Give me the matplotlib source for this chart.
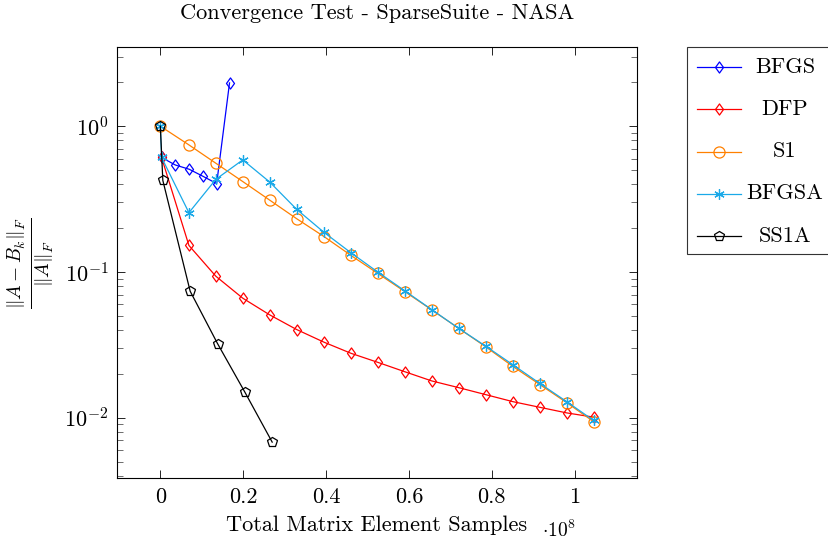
import matplotlib
matplotlib.use("Agg")
import matplotlib.pyplot as plt
from matplotlib.lines import Line2D
from matplotlib.patches import Rectangle
from matplotlib.path import Path
from matplotlib.ticker import FixedLocator, FuncFormatter, LogLocator, NullFormatter

plt.rcParams.update({
    "font.family": "serif",
    "font.serif": ["cmr10"],
    "mathtext.fontset": "cm",
    "axes.formatter.use_mathtext": True,
    "axes.unicode_minus": False,
    "font.size": 16,
})

# Total matrix element samples, in units of 1e8
samples_grid = [0.069, 0.134, 0.199, 0.264, 0.329, 0.395, 0.460, 0.525,
                0.590, 0.655, 0.720, 0.786, 0.851, 0.916, 0.981, 1.046]

bfgs_x = [0.003, 0.036, 0.070, 0.103, 0.136, 0.167]
bfgs_y = [0.61, 0.542, 0.506, 0.453, 0.404, 1.98]

dfp_x = [0.003] + samples_grid
dfp_y = [0.61, 0.152, 0.0935, 0.0661, 0.0508, 0.0403, 0.0330, 0.0277, 0.0240,
         0.0207, 0.0179, 0.0161, 0.0144, 0.0129, 0.0118, 0.0108, 0.0101]

s1_x = [0.0] + samples_grid
s1_y = [1.0, 0.744, 0.557, 0.417, 0.311, 0.232, 0.175, 0.130, 0.0977,
        0.0734, 0.0550, 0.0411, 0.0306, 0.0225, 0.0169, 0.0127, 0.0094]

bfgsa_x = [0.0, 0.003] + samples_grid
bfgsa_y = [1.0, 0.61, 0.255, 0.432, 0.587, 0.414, 0.269, 0.187, 0.1355, 0.0998,
           0.0743, 0.0552, 0.0411, 0.0309, 0.0231, 0.0172, 0.0129, 0.00958]

ss1a_x = [0.0, 0.006, 0.072, 0.138, 0.204, 0.270]
ss1a_y = [1.0, 0.425, 0.0738, 0.0323, 0.0150, 0.00681]

labels = ["BFGS", "DFP", "S1", "BFGSA", "SS1A"]
colors = ["#0000ff", "#ff0000", "#ff8000", "#1aa9e8", "#000000"]

# pgfplots-style diamond: a little wider than matplotlib's thin diamond
diamond = Path([(0, 1), (0.72, 0), (0, -1), (-0.72, 0), (0, 1)],
               [Path.MOVETO, Path.LINETO, Path.LINETO, Path.LINETO, Path.CLOSEPOLY])
markers = [diamond, diamond, "o", (6, 2, 0), "p"]
msizes = [8, 8, 8, 7.5, 7.5]

series = [(bfgs_x, bfgs_y), (dfp_x, dfp_y), (s1_x, s1_y),
          (bfgsa_x, bfgsa_y), (ss1a_x, ss1a_y)]

W, H = 829, 546
fig = plt.figure(figsize=(W / 100, H / 100), dpi=100)
ax = fig.add_axes([117 / W, 1 - 478 / H, (637 - 117) / W, (478 - 47) / H])

style = dict(lw=0.9, markerfacecolor="none", markeredgewidth=0.9)
for (xs, ys), lab, c, m, ms in zip(series, labels, colors, markers, msizes):
    ax.plot(xs, ys, color=c, marker=m, markersize=ms,
            markeredgecolor=c, label=lab, **style)

ax.set_yscale("log")
ax.set_xlim(-0.1046, 1.1506)
ax.set_ylim(10 ** -2.413, 10 ** 0.543)

ax.xaxis.set_major_locator(FixedLocator([0, 0.2, 0.4, 0.6, 0.8, 1.0]))
ax.xaxis.set_major_formatter(FuncFormatter(lambda v, p: "%g" % round(v, 3)))
ax.yaxis.set_major_locator(LogLocator(base=10, numticks=10))
ax.yaxis.set_minor_locator(LogLocator(base=10, subs=range(2, 10), numticks=20))
ax.yaxis.set_minor_formatter(NullFormatter())

ax.tick_params(which="both", direction="in", top=True, right=True)
ax.tick_params(which="major", length=6, width=0.6)
ax.tick_params(which="minor", length=4, width=0.6, color="#555555")
ax.tick_params(axis="x", pad=7)
ax.tick_params(axis="y", pad=6)
for sp in ax.spines.values():
    sp.set_linewidth(0.8)

ax.set_title("Convergence Test - SparseSuite - NASA", fontsize=16.1, pad=20)
ax.set_xlabel("Total Matrix Element Samples", labelpad=6)
ax.set_ylabel(r"$\frac{\|A-B_k\|_F}{\|A\|_F}$", fontsize=20, labelpad=6)
fig.text(559 / W, 1 - 530 / H, r"$\cdot 10^{8}$", fontsize=14,
         ha="center", va="center")

# Legend box to the right of the axes, entries with centred text
def fx(px):
    return px / W

def fy(py):
    return 1 - py / H

fig.add_artist(Rectangle((fx(687), fy(254)), fx(840) - fx(687), fy(47) - fy(254),
                         transform=fig.transFigure, facecolor="white",
                         edgecolor="#333333", lw=0.8))
row_y = [67, 109, 151.5, 193.5, 236]
for lab, c, m, ms, yy in zip(labels, colors, markers, msizes, row_y):
    fig.add_artist(Line2D([fx(697), fx(741)], [fy(yy), fy(yy)],
                          transform=fig.transFigure, color=c, lw=0.9))
    fig.add_artist(Line2D([fx(719)], [fy(yy)], transform=fig.transFigure,
                          color=c, marker=m, markersize=ms,
                          markeredgecolor=c, markerfacecolor="none",
                          markeredgewidth=0.9, lw=0))
    fig.text(fx(785), fy(yy), lab, ha="center", va="center")

fig.savefig("out.png", dpi=100)
